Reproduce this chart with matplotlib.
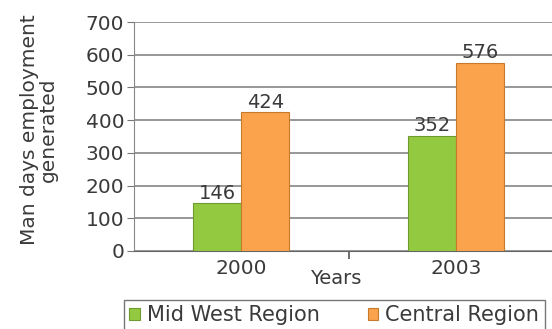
import numpy as np
import matplotlib.pyplot as plt

years = ['2000', '2003']
mid_west = [146, 352]
central = [424, 576]
yticks = [0, 100, 200, 300, 400, 500, 600, 700]

green = '#93c940'
orange = '#fba24c'
txt = '#3a3a3a'

fig = plt.figure(figsize=(5.52, 3.29), dpi=100)
ax = fig.add_axes([134 / 552, 1 - 251 / 329, 1 - 134 / 552, 229 / 329])

x = np.arange(len(years))
w = 0.224
b1 = ax.bar(x - w / 2, mid_west, w, color=green, edgecolor='#6f9a2e', linewidth=0.8,
            label='Mid West Region', zorder=3)
b2 = ax.bar(x + w / 2, central, w, color=orange, edgecolor='#c67a2c', linewidth=0.8,
            label='Central Region', zorder=3)

for bars, vals in [(b1, mid_west), (b2, central)]:
    for r, v in zip(bars, vals):
        ax.text(r.get_x() + r.get_width() / 2, v + 2, str(v), ha='center', va='bottom',
                fontsize=14, color=txt, zorder=4)

ax.set_xlim(-0.5, (552 - 241) / 215)
ax.set_ylim(0, 700)
ax.set_yticks(yticks)
ax.set_yticklabels([str(t) for t in yticks], fontsize=14.5, color=txt)
ax.set_xticks(x)
ax.set_xticklabels(years, fontsize=14.5, color=txt)
ax.set_xticks([0.5], minor=True)
ax.tick_params(axis='x', which='major', length=0, pad=6)
ax.tick_params(axis='x', which='minor', length=6, width=1.2, color='#555555')
ax.tick_params(axis='y', length=5, color='#777777', pad=2)
ax.grid(axis='y', color='#7a7a7a', linewidth=1.1, zorder=0)

for s in ['top', 'right']:
    ax.spines[s].set_visible(False)
ax.spines['left'].set_color('#888888')
ax.spines['bottom'].set_color('#666666')

fig.text(336 / 552, 1 - 279 / 329, 'Years', ha='center', va='center', fontsize=14, color=txt)
fig.text(39 / 552, 1 - 130 / 329, 'Man days employment\ngenerated', ha='center', va='center',
         rotation=90, fontsize=14.5, color=txt, linespacing=0.95)

leg = fig.legend(handles=[b1, b2], loc='upper left', bbox_to_anchor=(124 / 552, 1 - 300 / 329),
                 ncol=2, fontsize=15, frameon=True, fancybox=False, edgecolor='#555555',
                 handlelength=0.5, handleheight=0.5, handletextpad=0.35, columnspacing=2.3,
                 borderpad=0.25, borderaxespad=0)
for t in leg.get_texts():
    t.set_color(txt)

fig.savefig('out.png', dpi=100)
